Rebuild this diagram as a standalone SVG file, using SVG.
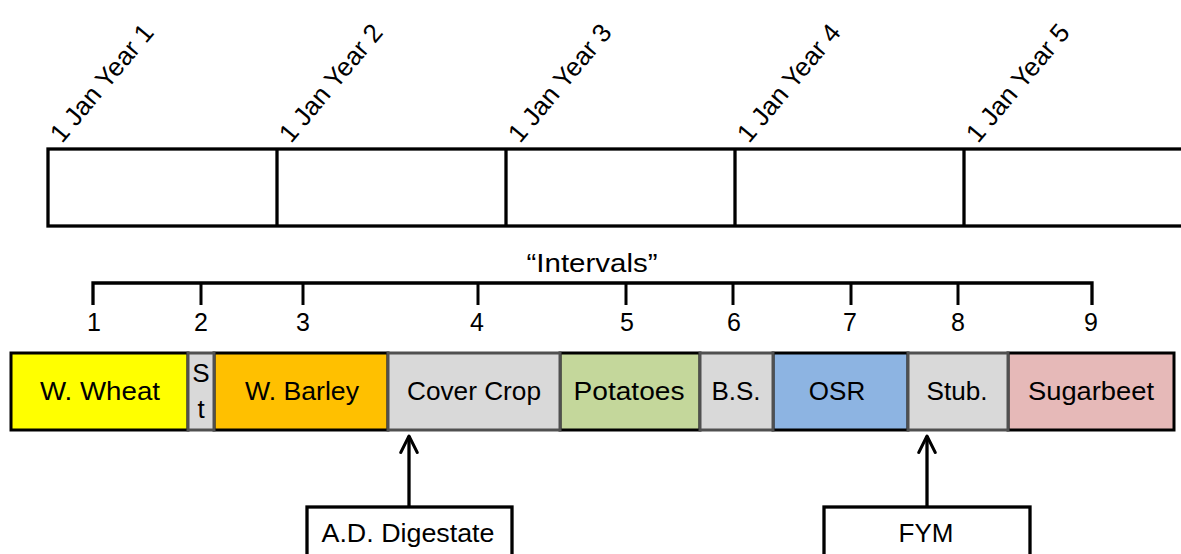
<svg xmlns="http://www.w3.org/2000/svg" width="1181" height="554" viewBox="0 0 1181 554">
<style>
  text { font-family: "Liberation Sans", Arial, sans-serif; fill: #000; }
  .yr { font-size: 26px; }
  .num { font-size: 25px; text-anchor: middle; }
  .lbl { font-size: 26px; text-anchor: middle; }
  .tl { fill: #fff; stroke: #000; stroke-width: 3.3; }
  .ln { stroke: #000; stroke-width: 3.3; fill: none; }
  .tk { stroke: #000; stroke-width: 3; fill: none; }
  .seg { stroke: #000; stroke-width: 3; }
  .gray { fill: #D9D9D9; stroke: #505050; stroke-width: 3; }
  .src { fill: #fff; stroke: #000; stroke-width: 3.3; }
  .arr { stroke: #000; stroke-width: 3.3; fill: none; }
</style>
<defs>
  <marker id="ah" viewBox="0 0 12 12" refX="11" refY="6" markerWidth="6" markerHeight="6" orient="auto" markerUnits="strokeWidth">
    <path d="M1,1 L11,6 L1,11" fill="none" stroke="#000" stroke-width="1.8" stroke-linecap="round" stroke-linejoin="round"/>
  </marker>
</defs>
<rect width="1181" height="554" fill="#fff"/>

<g id="timeline">
  <rect class="tl" x="48" y="149" width="1150" height="77"/>
  <line class="ln" x1="277" y1="149" x2="277" y2="226"/>
  <line class="ln" x1="506" y1="149" x2="506" y2="226"/>
  <line class="ln" x1="735" y1="149" x2="735" y2="226"/>
  <line class="ln" x1="964" y1="149" x2="964" y2="226"/>
  <text class="yr" transform="translate(62,144) rotate(-50)">1 Jan Year 1</text>
  <text class="yr" transform="translate(291,144) rotate(-50)">1 Jan Year 2</text>
  <text class="yr" transform="translate(520,144) rotate(-50)">1 Jan Year 3</text>
  <text class="yr" transform="translate(749,144) rotate(-50)">1 Jan Year 4</text>
  <text class="yr" transform="translate(978,144) rotate(-50)">1 Jan Year 5</text>
</g>

<g id="intervals">
  <text class="lbl" x="592" y="272" textLength="131" lengthAdjust="spacingAndGlyphs">“Intervals”</text>
  <path class="ln" d="M93,305 V283 H1092 V305"/>
  <line class="tk" x1="201" y1="283" x2="201" y2="305"/>
  <line class="tk" x1="303" y1="283" x2="303" y2="305"/>
  <line class="tk" x1="478" y1="283" x2="478" y2="305"/>
  <line class="tk" x1="626" y1="283" x2="626" y2="305"/>
  <line class="tk" x1="733" y1="283" x2="733" y2="305"/>
  <line class="tk" x1="851" y1="283" x2="851" y2="305"/>
  <line class="tk" x1="958" y1="283" x2="958" y2="305"/>
  <text class="num" x="94" y="331">1</text>
  <text class="num" x="201" y="331">2</text>
  <text class="num" x="303" y="331">3</text>
  <text class="num" x="477" y="331">4</text>
  <text class="num" x="627" y="331">5</text>
  <text class="num" x="734" y="331">6</text>
  <text class="num" x="850" y="331">7</text>
  <text class="num" x="958" y="331">8</text>
  <text class="num" x="1091" y="331">9</text>
</g>

<g id="crops">
  <g id="wwheat"><rect class="seg" x="11" y="353" width="177" height="77" fill="#FFFF00"/><text class="lbl" x="100" y="400" textLength="120" lengthAdjust="spacingAndGlyphs">W. Wheat</text></g>
  <g id="wbarley"><rect class="seg" x="214" y="353" width="174" height="77" fill="#FFC000"/><text class="lbl" x="302" y="400" textLength="114" lengthAdjust="spacingAndGlyphs">W. Barley</text></g>
  <g id="potatoes"><rect class="seg" x="560" y="353" width="140" height="77" fill="#C4D79B"/><text class="lbl" x="629" y="400" textLength="111" lengthAdjust="spacingAndGlyphs">Potatoes</text></g>
  <g id="osr"><rect class="seg" x="773" y="353" width="135" height="77" fill="#8DB4E2"/><text class="lbl" x="837" y="400">OSR</text></g>
  <g id="sugarbeet"><rect class="seg" x="1008" y="353" width="166" height="77" fill="#E6B9B8"/><text class="lbl" x="1091" y="400" textLength="126" lengthAdjust="spacingAndGlyphs">Sugarbeet</text></g>
  <g id="st"><rect class="gray" x="188" y="353" width="26" height="77"/><text class="lbl" x="201" y="382">S</text><text class="lbl" x="201" y="418">t</text></g>
  <g id="cover"><rect class="gray" x="388" y="353" width="172" height="77"/><text class="lbl" x="474" y="400" textLength="134" lengthAdjust="spacingAndGlyphs">Cover Crop</text></g>
  <g id="bs"><rect class="gray" x="700" y="353" width="73" height="77"/><text class="lbl" x="736" y="400">B.S.</text></g>
  <g id="stub"><rect class="gray" x="908" y="353" width="100" height="77"/><text class="lbl" x="957" y="400" textLength="61" lengthAdjust="spacingAndGlyphs">Stub.</text></g>
</g>

<g id="digestate"><rect class="src" x="307" y="507" width="205" height="60"/><text class="lbl" x="408" y="542" textLength="173" lengthAdjust="spacingAndGlyphs">A.D. Digestate</text></g>
<g id="fym"><rect class="src" x="824" y="507" width="206" height="60"/><text class="lbl" x="926" y="542">FYM</text></g>

<g id="connectors">
  <line class="arr" x1="409" y1="506" x2="409" y2="436" marker-end="url(#ah)"/>
  <line class="arr" x1="927" y1="506" x2="927" y2="436" marker-end="url(#ah)"/>
</g>
</svg>
